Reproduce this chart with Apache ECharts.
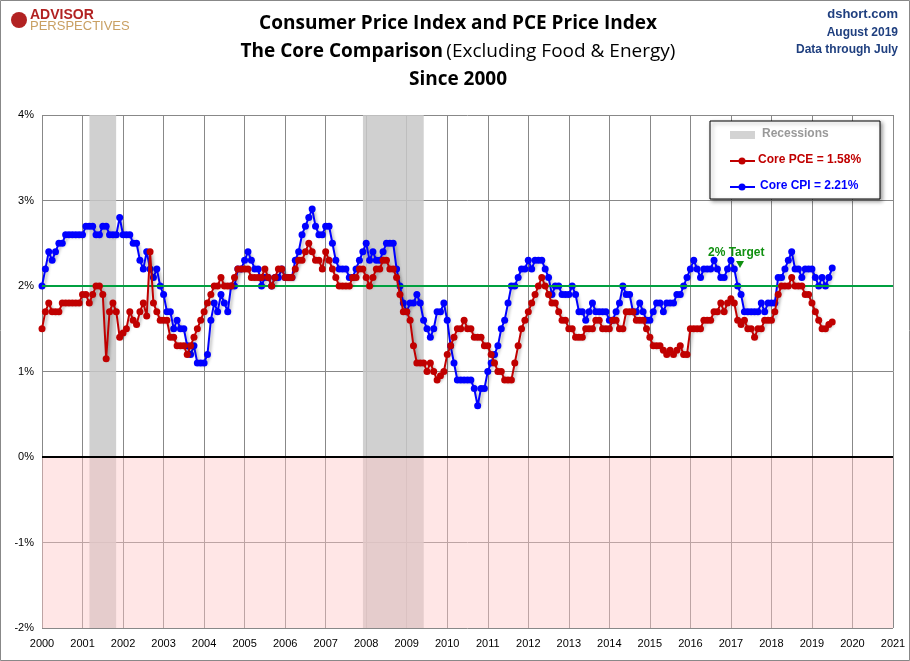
<!DOCTYPE html>
<html><head><meta charset="utf-8">
<script src="https://cdn.jsdelivr.net/npm/echarts@6/dist/echarts.min.js"></script>
<style>html,body{margin:0;padding:0;background:#fff}#c{width:910px;height:661px}</style>
</head><body><div id="c"></div>
<script>
const startYear = 2000;
const coreCPI = [
2.0,2.2,2.4,2.3,2.4,2.5,2.5,2.6,2.6,2.6,2.6,2.6,
2.6,2.7,2.7,2.7,2.6,2.6,2.7,2.7,2.6,2.6,2.6,2.8,
2.6,2.6,2.6,2.5,2.5,2.3,2.2,2.4,2.2,2.1,2.2,2.0,
1.9,1.7,1.7,1.5,1.6,1.5,1.5,1.3,1.2,1.3,1.1,1.1,
1.1,1.2,1.6,1.8,1.7,1.9,1.8,1.7,2.0,2.0,2.2,2.2,
2.3,2.4,2.3,2.2,2.2,2.0,2.1,2.1,2.0,2.1,2.1,2.2,
2.1,2.1,2.1,2.3,2.4,2.6,2.7,2.8,2.9,2.7,2.6,2.6,
2.7,2.7,2.5,2.3,2.2,2.2,2.2,2.1,2.1,2.2,2.3,2.4,
2.5,2.3,2.4,2.3,2.3,2.4,2.5,2.5,2.5,2.2,2.0,1.8,
1.7,1.8,1.8,1.9,1.8,1.6,1.5,1.4,1.5,1.7,1.7,1.8,
1.6,1.3,1.1,0.9,0.9,0.9,0.9,0.9,0.8,0.6,0.8,0.8,
1.0,1.1,1.2,1.3,1.5,1.6,1.8,2.0,2.0,2.1,2.2,2.2,
2.3,2.2,2.3,2.3,2.3,2.2,2.1,1.9,2.0,2.0,1.9,1.9,
1.9,2.0,1.9,1.7,1.7,1.6,1.7,1.8,1.7,1.7,1.7,1.7,
1.6,1.6,1.7,1.8,2.0,1.9,1.9,1.7,1.7,1.8,1.7,1.6,
1.6,1.7,1.8,1.8,1.7,1.8,1.8,1.8,1.9,1.9,2.0,2.1,
2.2,2.3,2.2,2.1,2.2,2.2,2.2,2.3,2.2,2.1,2.1,2.2,
2.3,2.2,2.0,1.9,1.7,1.7,1.7,1.7,1.7,1.8,1.7,1.8,
1.8,1.8,2.1,2.1,2.2,2.3,2.4,2.2,2.2,2.1,2.2,2.2,
2.2,2.1,2.0,2.1,2.0,2.1,2.21];
const corePCE = [
1.5,1.7,1.8,1.7,1.7,1.7,1.8,1.8,1.8,1.8,1.8,1.8,
1.9,1.9,1.8,1.9,2.0,2.0,1.9,1.15,1.7,1.8,1.7,1.4,
1.45,1.5,1.7,1.6,1.55,1.7,1.8,1.65,2.4,1.8,1.7,1.6,
1.6,1.6,1.4,1.4,1.3,1.3,1.3,1.2,1.3,1.4,1.5,1.6,
1.7,1.8,1.9,2.0,2.0,2.1,2.0,2.0,2.0,2.1,2.2,2.2,
2.2,2.2,2.1,2.1,2.1,2.1,2.2,2.1,2.0,2.1,2.2,2.2,
2.1,2.1,2.1,2.2,2.3,2.3,2.4,2.5,2.4,2.3,2.3,2.2,
2.4,2.3,2.2,2.1,2.0,2.0,2.0,2.0,2.1,2.1,2.2,2.2,
2.1,2.0,2.1,2.2,2.2,2.3,2.3,2.2,2.2,2.1,1.9,1.7,
1.7,1.6,1.3,1.1,1.1,1.1,1.0,1.1,1.0,0.9,0.95,1.0,
1.2,1.3,1.4,1.5,1.5,1.6,1.5,1.5,1.4,1.4,1.4,1.3,
1.3,1.2,1.1,1.0,1.0,0.9,0.9,0.9,1.1,1.3,1.5,1.6,
1.7,1.8,1.9,2.0,2.1,2.0,1.9,1.8,1.8,1.7,1.6,1.6,
1.5,1.5,1.4,1.4,1.4,1.5,1.5,1.5,1.6,1.6,1.5,1.5,
1.5,1.6,1.6,1.5,1.5,1.7,1.7,1.7,1.6,1.6,1.6,1.5,
1.4,1.3,1.3,1.3,1.25,1.2,1.25,1.2,1.25,1.3,1.2,1.2,
1.5,1.5,1.5,1.5,1.6,1.6,1.6,1.7,1.7,1.8,1.7,1.8,
1.85,1.8,1.6,1.55,1.6,1.5,1.5,1.4,1.5,1.5,1.6,1.6,
1.6,1.7,1.9,2.0,2.0,2.0,2.1,2.0,2.0,2.0,1.9,1.9,
1.8,1.7,1.6,1.5,1.5,1.55,1.58];
const recessions = [[2001.17,2001.83],[2007.92,2009.42]];
const yTicks = [-2,-1,0,1,2,3,4];

const toPairs = arr => arr.map((v,i)=>[startYear + i/12, v]);
const chart = echarts.init(document.getElementById('c'));
chart.setOption({
  animation:false,
  backgroundColor:'#fff',
  graphic:[
    {type:'rect',shape:{x:0.5,y:0.5,width:909,height:660},style:{fill:'none',stroke:'#888',lineWidth:1}},
    {type:'text',x:30,y:8,style:{text:'ADVISOR',font:'bold 14px "Liberation Sans"',fill:'#b22222'}},
    {type:'text',x:30,y:20,style:{text:'PERSPECTIVES',font:'13px "Liberation Sans"',fill:'#c9a063'}},
    {type:'circle',shape:{cx:19,cy:20,r:8},style:{fill:'#b22222'}},
    {type:'text',x:898,y:8,style:{text:'dshort.com',font:'bold 13px "Liberation Sans"',fill:'#1f3f7f',align:'right'}},
    {type:'text',x:898,y:27,style:{text:'August 2019',font:'bold 12px "Liberation Sans"',fill:'#1f3f7f',align:'right'}},
    {type:'text',x:898,y:44,style:{text:'Data through July',font:'bold 12px "Liberation Sans"',fill:'#1f3f7f',align:'right'}},
    {type:'text',x:458,y:14,style:{text:'Consumer Price Index and PCE Price Index',font:'bold 19px "Open Sans"',fill:'#000',align:'center'}},
    {type:'text',x:458,y:42,style:{rich:{b:{font:'bold 19px "Open Sans"',fill:'#000'},n:{font:'19px "Open Sans"',fill:'#000'}},text:'{b|The Core Comparison} {n|(Excluding Food & Energy)}',align:'center'}},
    {type:'text',x:458,y:70,style:{text:'Since 2000',font:'bold 19px "Open Sans"',fill:'#000',align:'center'}},
    {type:'rect',shape:{x:710,y:121,width:170,height:78},style:{fill:'#fff',stroke:'#000',lineWidth:1,shadowBlur:4,shadowOffsetX:2,shadowOffsetY:2,shadowColor:'rgba(0,0,0,0.4)'},z:100},
    {type:'rect',shape:{x:730,y:131,width:25,height:8},style:{fill:'#d3d3d3'},z:101},
    {type:'text',x:762,y:128,style:{text:'Recessions',font:'bold 12px "Liberation Sans"',fill:'#999'},z:101},
    {type:'line',shape:{x1:730,y1:161,x2:755,y2:161},style:{stroke:'#c00000',lineWidth:2},z:101},
    {type:'circle',shape:{cx:742,cy:161,r:3.5},style:{fill:'#c00000'},z:101},
    {type:'text',x:758,y:154,style:{text:'Core PCE = 1.58%',font:'bold 12px "Liberation Sans"',fill:'#c00000'},z:101},
    {type:'line',shape:{x1:730,y1:187,x2:755,y2:187},style:{stroke:'#0000ff',lineWidth:2},z:101},
    {type:'circle',shape:{cx:742,cy:187,r:3.5},style:{fill:'#0000ff'},z:101},
    {type:'text',x:760,y:180,style:{text:'Core CPI = 2.21%',font:'bold 12px "Liberation Sans"',fill:'#0000ff'},z:101},
    {type:'text',x:708,y:247,style:{text:'2% Target',font:'bold 12px "Liberation Sans"',fill:'#109010'},z:101},
    {type:'polygon',shape:{points:[[736,261],[744,261],[740,268]]},style:{fill:'#109010'},z:101}
  ],
  grid:{left:42,right:17,top:115,bottom:33},
  xAxis:{type:'value',min:2000,max:2021,interval:1,
    axisLine:{show:false},axisTick:{show:false},
    axisLabel:{formatter:v=>String(v),color:'#000',fontSize:11,fontFamily:'Liberation Sans',margin:10},
    splitLine:{show:true,lineStyle:{color:'#888',width:1}}},
  yAxis:{type:'value',min:-2,max:4,interval:1,
    axisLine:{show:false},axisTick:{show:false},
    axisLabel:{formatter:v=>yTicks.includes(v)?v+'%':'',color:'#000',fontSize:11,fontFamily:'Liberation Sans'},
    splitLine:{lineStyle:{color:'#888',width:1}}},
  series:[
    {type:'line',name:'Core PCE',data:toPairs(corePCE),color:'#c00000',symbol:'circle',symbolSize:7,
      lineStyle:{width:2,shadowBlur:3,shadowColor:'rgba(0,0,0,0.3)',shadowOffsetX:2,shadowOffsetY:2},z:5,
      markArea:{silent:true,itemStyle:{color:'rgba(200,200,200,0.85)'},data:recessions.map(r=>[{xAxis:r[0]},{xAxis:r[1]}])},
      markLine:{silent:true,symbol:'none',label:{show:false},data:[
        {yAxis:2,lineStyle:{color:'#00a040',width:2,type:'solid'}},
        {yAxis:0,lineStyle:{color:'#000',width:2,type:'solid'}}]}},
    {type:'line',name:'Core CPI',data:toPairs(coreCPI),color:'#0000ff',symbol:'circle',symbolSize:7,
      lineStyle:{width:2,shadowBlur:3,shadowColor:'rgba(0,0,0,0.3)',shadowOffsetX:2,shadowOffsetY:2},z:4,
      markArea:{silent:true,itemStyle:{color:'rgba(255,200,200,0.45)'},data:[[{yAxis:-2},{yAxis:0}]]}}
  ]
});
</script></body></html>
